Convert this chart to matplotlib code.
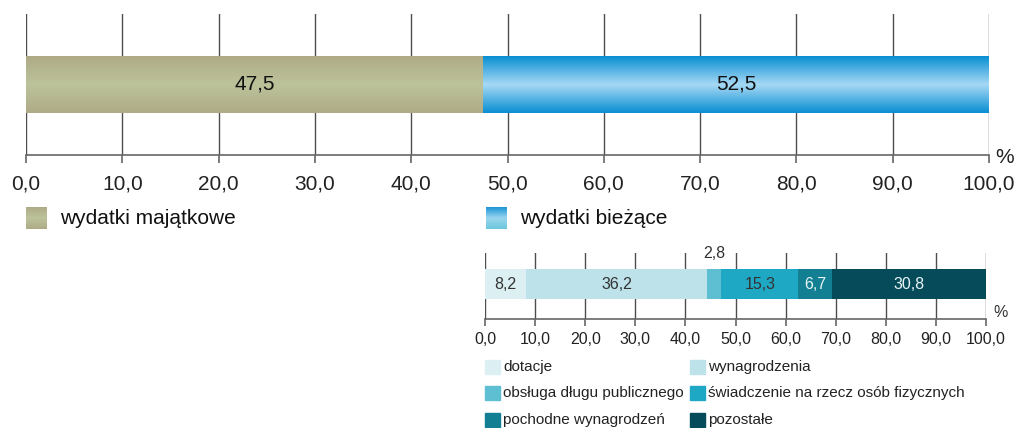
import numpy as np
import matplotlib.pyplot as plt
from matplotlib.patches import Rectangle
from matplotlib.colors import LinearSegmentedColormap

plt.rcParams['font.family'] = ['Liberation Sans', 'DejaVu Sans']

# top chart: spending structure
top_labels = ['wydatki majątkowe', 'wydatki bieżące']
top_values = [47.5, 52.5]

# bottom chart: current spending breakdown
sub_labels = ['dotacje', 'wynagrodzenia', 'obsługa długu publicznego',
              'świadczenie na rzecz osób fizycznych', 'pochodne wynagrodzeń', 'pozostałe']
sub_values = [8.2, 36.2, 2.8, 15.3, 6.7, 30.8]
sub_colors = ['#dcf0f3', '#bde2e9', '#5ebfd2', '#1fa8c4', '#137f93', '#064b5a']
sub_text_colors = ['#333333', '#333333', '#333333', '#333333', '#e8f4f6', '#e8f4f6']

ticks = np.arange(0, 101, 10)
tick_labels = [f'{t:.1f}'.replace('.', ',') for t in ticks]

olive_cmap = LinearSegmentedColormap.from_list('olive', ['#aeab86', '#bcc39a', '#aeab86'])
blue_cmap = LinearSegmentedColormap.from_list('blue', ['#0a8fd3', '#a6d9f5', '#0a8fd3'])

fig = plt.figure(figsize=(10.19, 4.28), dpi=100)


def style_axis(ax, fs, tick_len, pad):
    ax.set_xlim(0, 100)
    ax.set_ylim(0, 1)
    for s in ['top', 'right', 'left']:
        ax.spines[s].set_visible(False)
    ax.spines['bottom'].set_color('#666666')
    ax.spines['bottom'].set_linewidth(1.2)
    ax.set_yticks([])
    ax.set_xticks(ticks)
    ax.set_xticklabels(tick_labels, fontsize=fs, color='#222222')
    ax.tick_params(axis='x', length=tick_len, width=1.2, color='#666666', pad=pad)
    for t in ticks:
        ax.axvline(t, color='#4d4d4d', lw=1.0, zorder=0)


# ---- top chart ----
ax1 = fig.add_axes([26 / 1019, 1 - 155 / 428, 963 / 1019, 141 / 428])
style_axis(ax1, 15, 6, 8)
grad = np.linspace(0, 1, 100).reshape(-1, 1)
left = 0
for val, cmap in zip(top_values, [olive_cmap, blue_cmap]):
    ax1.imshow(grad, cmap=cmap, aspect='auto', extent=[left, left + val, 0.3, 0.7],
               zorder=2, interpolation='bicubic')
    ax1.text(left + val / 2, 0.5, f'{val:.1f}'.replace('.', ','), ha='center', va='center',
             fontsize=15, color='#111111', zorder=3)
    left += val
ax1.set_ylim(0, 1)
ax1.text(1.007, -0.02, '%', transform=ax1.transAxes, fontsize=15, color='#222222',
         ha='left', va='center')

# top legend
for i, (lab, cmap) in enumerate(zip(top_labels, [olive_cmap, blue_cmap])):
    x0 = [26, 486][i]
    lax = fig.add_axes([x0 / 1019, 1 - 229 / 428, 21 / 1019, 22 / 428])
    lax.imshow(grad, cmap=cmap if i == 0 else
               LinearSegmentedColormap.from_list('lb', ['#1d95d6', '#9ad6ef', '#6cc7dc']),
               aspect='auto', interpolation='bicubic')
    lax.axis('off')
    fig.text((x0 + 34) / 1019, 1 - 218 / 428, lab, fontsize=15, color='#111111',
             va='center', ha='left')

# ---- bottom chart ----
ax2 = fig.add_axes([485 / 1019, 1 - 319 / 428, 501 / 1019, 66 / 428])
style_axis(ax2, 11.5, 5, 4)
left = 0
for i, (val, col) in enumerate(zip(sub_values, sub_colors)):
    ax2.barh(0.53, val, left=left, height=0.46, color=col, zorder=2)
    txt = f'{val:.1f}'.replace('.', ',')
    if val < 5:
        ax2.text(left + val / 2, 1.0, txt, ha='center', va='center', fontsize=11.5,
                 color='#333333', zorder=3, clip_on=False)
    else:
        ax2.text(left + val / 2, 0.53, txt, ha='center', va='center', fontsize=11.5,
                 color=sub_text_colors[i], zorder=3)
    left += val
ax2.text(1.015, 0.1, '%', transform=ax2.transAxes, fontsize=11.5, color='#333333',
         ha='left', va='center')

# bottom legend
col_x = [485, 690]
row_y = [367, 393, 420]
for i, (lab, col) in enumerate(zip(sub_labels, sub_colors)):
    x0 = col_x[i % 2]
    yc = row_y[i // 2]
    fig.patches.append(Rectangle((x0 / 1019, 1 - (yc + 7) / 428), 15 / 1019, 14 / 428,
                                 transform=fig.transFigure, color=col, figure=fig))
    fig.text((x0 + 18) / 1019, 1 - yc / 428, lab, fontsize=11, color='#222222',
             va='center', ha='left')

fig.savefig('out.png', dpi=100)
